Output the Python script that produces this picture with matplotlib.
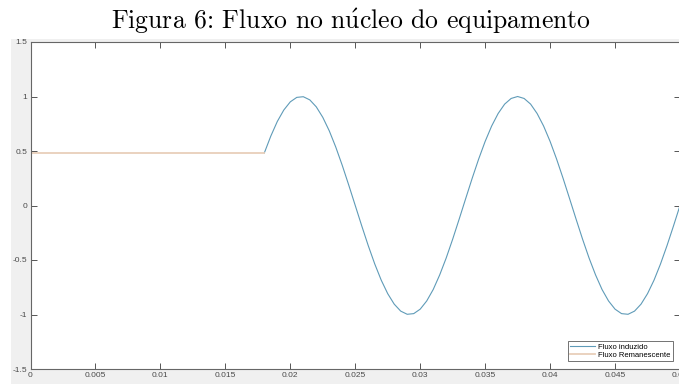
import matplotlib
matplotlib.use("Agg")
import matplotlib.pyplot as plt
from matplotlib.patches import Rectangle
import numpy as np

# Remanent flux (flat part)
t_rem = [0.0, 0.018]
flux_rem = [0.48, 0.48]

# Induced flux, sampled every 0.0005 s from 0.018 to 0.050
t_ind = [round(0.018 + 0.0005 * k, 4) for k in range(65)]
flux_ind = [
    0.482, 0.637, 0.771, 0.876, 0.951, 0.992, 0.998, 0.969, 0.905, 0.809,
    0.685, 0.536, 0.368, 0.187, 0.000, -0.187, -0.368, -0.536, -0.685, -0.809,
    -0.905, -0.969, -0.998, -0.992, -0.951, -0.876, -0.771, -0.637, -0.482, -0.309,
    -0.125, 0.063, 0.249, 0.426, 0.588, 0.729, 0.844, 0.930, 0.982, 1.000,
    0.982, 0.930, 0.844, 0.729, 0.588, 0.426, 0.249, 0.063, -0.125, -0.309,
    -0.482, -0.637, -0.771, -0.876, -0.951, -0.992, -0.998, -0.969, -0.905, -0.809,
    -0.685, -0.536, -0.368, -0.187, 0.000,
]

xticks = [0, 0.005, 0.01, 0.015, 0.02, 0.025, 0.03, 0.035, 0.04, 0.045, 0.05]
xticklabels = ["0", "0.005", "0.01", "0.015", "0.02", "0.025", "0.03", "0.035", "0.04", "0.045", "0.05"]
yticks = [-1.5, -1, -0.5, 0, 0.5, 1, 1.5]
yticklabels = ["-1.5", "-1", "-0.5", "0", "0.5", "1", "1.5"]
labels = ["Fluxo induzido", "Fluxo Remanescente"]
title = r"Figura 6: Fluxo no n$\acute{\mathrm{u}}$cleo do equipamento"

plt.rcParams["mathtext.fontset"] = "cm"
W, H = 679, 384
fig = plt.figure(figsize=(W / 100, H / 100), dpi=100)
fig.patch.set_facecolor("white")
fig.patches.append(Rectangle((11 / W, 0), 1 - 11 / W, 1 - 39 / H,
                             transform=fig.transFigure, facecolor="#f0f0f0",
                             edgecolor="none", zorder=-10))

ax = fig.add_axes([30.5 / W, 1 - 369 / H, (680 - 30.5) / W, (369 - 42) / H])
ax.set_zorder(1)
ax.set_facecolor("white")
l1, = ax.plot(t_ind, flux_ind, color="#5f9bb8", lw=0.8, label=labels[0])
l2, = ax.plot(t_rem, flux_rem, color="#e8cfba", lw=1.3, label=labels[1])
ax.set_xlim(0, 0.05)
ax.set_ylim(-1.5, 1.5)
ax.set_xticks(xticks)
ax.set_xticklabels(xticklabels)
ax.set_yticks(yticks)
ax.set_yticklabels(yticklabels)
ax.tick_params(direction="in", length=4, width=0.7, color="#555555",
               labelsize=6, labelcolor="#4a4a4a", top=True, right=True, pad=2.5)
for lab in ax.get_xticklabels() + ax.get_yticklabels():
    lab.set_family("Liberation Sans")
for s in ax.spines.values():
    s.set_color("#666666")
    s.set_linewidth(0.8)

leg = ax.legend(handles=[l1, l2], loc="lower right",
                bbox_to_anchor=(673 / W, 1 - 361 / H), bbox_transform=fig.transFigure,
                prop={"family": "Liberation Sans", "size": 5.5}, frameon=True,
                fancybox=False, handlelength=3.2, handletextpad=0.5,
                borderpad=0.3, labelspacing=0.1, borderaxespad=0)
leg.get_frame().set_edgecolor("#333333")
leg.get_frame().set_linewidth(0.6)

fig.text(351 / W, 1 - 29 / H, title, ha="center", va="baseline", fontsize=18.5,
         family=["cmr10", "DejaVu Serif"])

fig.savefig("out.png", dpi=100)
